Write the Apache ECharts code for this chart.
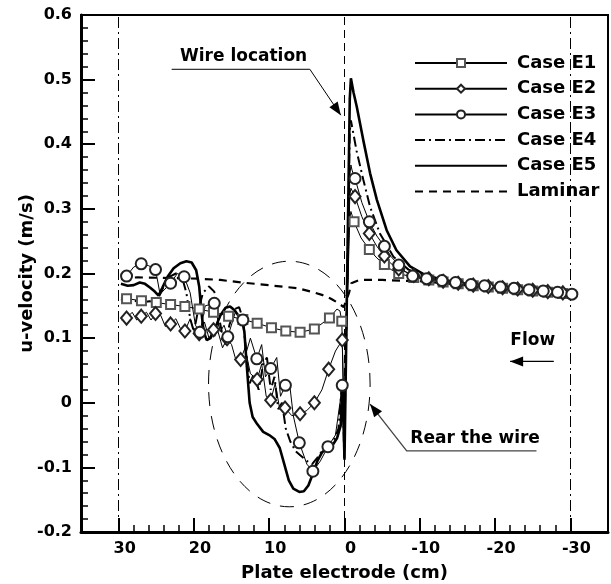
<!DOCTYPE html>
<html><head><meta charset="utf-8">
<script src="https://cdn.jsdelivr.net/npm/echarts@6/dist/echarts.min.js"></script>
<style>html,body{margin:0;padding:0;background:#fff}#c{width:611px;height:584px}</style>
</head><body><div id="c"></div>
<script>
// ---------- tick values ----------
const xTicks = [30, 20, 10, 0, -10, -20, -30];
const xMinorTicks = [28,26,24,22,18,16,14,12,8,6,4,2,-2,-4,-6,-8,-12,-14,-16,-18,-22,-24,-26,-28];
const yMin = -0.2, yMax = 0.6, yStep = 0.1;
const refDashDotX = [30, -30];
const wireX = [0];

// ---------- Case E1 (squares) ----------
const e1Line = [[29.7,0.162],[1.0,0.145],[0.6,0.142],[0.05,-0.02],[-0.7,0.285],[-0.85,0.296],[-2.2,0.255],[-4.3,0.224],[-6.2,0.206],[-30.2,0.168]];
const e1Marks = [[28.95,0.161],[26.97,0.158],[25.0,0.155],[23.1,0.152],[21.2,0.149],[19.3,0.145],[17.4,0.14],[15.4,0.134],[13.5,0.129],[11.6,0.123],[9.7,0.116],[7.8,0.111],[5.9,0.109],[4.0,0.114],[2.0,0.131],[0.36,0.126],
  [-1.27,0.28],[-3.3,0.237],[-5.3,0.214],[-7.2,0.2],[-9.2,0.194],[-11.2,0.19],[-13.1,0.187],[-15.1,0.184],[-17.1,0.181],[-19.1,0.179],[-21.0,0.177],[-23.0,0.175],[-25.0,0.173],[-27.0,0.171],[-29.0,0.169]];

// ---------- Case E2 (diamonds) ----------
const e2Line = [[29.6,0.128],[28.2,0.14],[27.6,0.128],[26.3,0.14],[25.7,0.128],[24.4,0.135],[23.8,0.118],[22.4,0.13],[21.8,0.115],[20.5,0.13],[19.9,0.108],[18.6,0.125],[18.0,0.1],[16.8,0.11],[16.2,0.085],[15.0,0.09],[14.4,0.065],[13.2,0.085],[12.5,0.045],[11.0,0.06],[10.4,0.01],[9.2,0.03],[8.6,-0.01],[7.0,-0.02],[5.0,-0.012],[3.0,0.02],[1.2,0.08],[0.05,-0.05],[-0.7,0.32],[-0.85,0.332],[-2.3,0.288],[-4.3,0.242],[-6.2,0.215],[-30.2,0.168]];
const e2Marks = [[28.95,0.131],[27.0,0.134],[25.1,0.138],[23.1,0.122],[21.2,0.111],[19.3,0.107],[17.4,0.113],[15.6,0.099],[13.8,0.067],[11.6,0.036],[9.8,0.004],[7.9,-0.008],[5.9,-0.017],[4.0,0.0],[2.1,0.052],[0.3,0.097],
  [-1.4,0.319],[-3.3,0.262],[-5.3,0.227],[-7.2,0.207],[-9.2,0.197],[-11.2,0.192],[-13.1,0.188],[-15.1,0.185],[-17.1,0.182],[-19.1,0.18],[-21.0,0.178],[-23.0,0.176],[-25.0,0.174],[-27.0,0.172],[-29.0,0.17]];

// ---------- Case E3 (circles) ----------
const e3Line = [[29.7,0.19],[28.0,0.21],[26.0,0.212],[24.5,0.168],[22.2,0.2],[20.5,0.17],[19.8,0.12],[18.5,0.15],[16.5,0.11],[16.0,0.12],[14.5,0.14],[13.0,0.08],[12.5,0.1],[11.0,0.09],[10.5,0.04],[9.0,0.07],[8.5,0.01],[7.3,0.03],[6.8,-0.02],[5.0,-0.095],[3.2,-0.09],[1.2,-0.05],[0.6,0.0],[0.05,-0.08],[-0.7,0.35],[-0.85,0.368],[-1.0,0.36],[-2.3,0.31],[-4.3,0.258],[-6.2,0.226],[-8.1,0.203]];
const e3Marks = [[28.95,0.196],[27.0,0.215],[25.1,0.206],[23.1,0.185],[21.3,0.195],[19.2,0.109],[17.3,0.154],[15.5,0.102],[13.5,0.128],[11.65,0.068],[9.8,0.053],[7.85,0.027],[6.0,-0.062],[4.2,-0.106],[2.2,-0.068],[0.3,0.027],
  [-1.4,0.347],[-3.3,0.28],[-5.3,0.242],[-7.2,0.213],[-9.05,0.196],[-10.9,0.192],[-12.95,0.189],[-14.75,0.186],[-16.8,0.183],[-18.6,0.181],[-20.7,0.179],[-22.5,0.177],[-24.5,0.175],[-26.4,0.173],[-28.3,0.171],[-30.2,0.168]];

// ---------- Case E4 (dash-dot) ----------
const e4 = [[29.7,0.16],[28.5,0.158],[27.5,0.157],[26.5,0.156],[25.5,0.158],[24.7,0.163],[24.0,0.18],[23.2,0.195],[22.4,0.2],[21.6,0.195],[21.0,0.17],[20.5,0.13],[20.0,0.11],[19.5,0.14],[18.8,0.17],[18.0,0.18],[17.3,0.172],[16.8,0.14],[16.3,0.11],[15.8,0.09],[15.3,0.12],[14.6,0.145],[14.0,0.148],[13.5,0.13],[13.0,0.07],[12.6,0.03],[12.0,0.045],[11.4,0.02],[10.8,0.06],[10.3,0.07],[9.8,0.02],[9.3,0.04],[8.8,-0.01],[8.3,0.0],[7.8,-0.04],[7.2,-0.06],[6.5,-0.075],[5.8,-0.082],[5.0,-0.09],[4.3,-0.095],[3.6,-0.085],[3.0,-0.075],[2.2,-0.07],[1.5,-0.06],[0.8,-0.04],[0.4,0.02],[0.2,0.03],[0.05,-0.085],
  [-0.7,0.42],[-0.85,0.437],[-1.6,0.39],[-2.5,0.345],[-3.4,0.303],[-4.7,0.262],[-6.5,0.226],[-8.5,0.206],[-10.5,0.197],[-12.5,0.191],[-15,0.186],[-18,0.181],[-21,0.177],[-24,0.174],[-27,0.171],[-30.2,0.168]];

// ---------- Case E5 (thick solid) ----------
const e5 = [[29.7,0.184],[28.8,0.181],[28.0,0.182],[27.2,0.186],[26.5,0.184],[25.8,0.178],[25.2,0.172],[24.7,0.166],[24.2,0.178],[23.5,0.195],[22.7,0.208],[21.8,0.216],[21.0,0.219],[20.3,0.217],[19.7,0.205],[19.3,0.18],[19.0,0.14],[18.7,0.11],[18.3,0.097],[17.8,0.1],[17.2,0.115],[16.5,0.135],[15.8,0.147],[15.2,0.149],[14.6,0.143],[14.1,0.135],[13.6,0.128],[13.3,0.11],[13.0,0.06],[12.6,0.0],[12.2,-0.022],[11.6,-0.033],[10.8,-0.045],[10.0,-0.05],[9.3,-0.056],[8.6,-0.07],[8.0,-0.095],[7.4,-0.12],[6.8,-0.133],[6.0,-0.138],[5.4,-0.137],[4.8,-0.128],[4.2,-0.11],[3.6,-0.09],[3.0,-0.077],[2.3,-0.07],[1.6,-0.066],[1.0,-0.055],[0.5,-0.035],[0.3,0.03],[0.15,-0.02],[0.0,-0.088],
  [-0.7,0.47],[-0.85,0.502],[-1.2,0.48],[-1.63,0.458],[-2.5,0.406],[-3.4,0.355],[-4.3,0.314],[-5.6,0.267],[-6.9,0.236],[-8.7,0.211],[-10.5,0.199],[-12.5,0.192],[-15,0.186],[-18,0.181],[-21,0.177],[-24,0.174],[-27,0.171],[-30.2,0.168]];

// ---------- Laminar (dashed) ----------
const laminar = [[29.7,0.193],[27.5,0.194],[23.0,0.193],[19.4,0.192],[16.5,0.19],[13.6,0.186],[10.1,0.182],[6.1,0.177],[4.5,0.172],[3.0,0.167],[1.8,0.161],[0.8,0.154],[0.1,0.148],[-0.6,0.17],[-0.9,0.185],[-2,0.19],[-5,0.19],[-10,0.188],[-15,0.183],[-20,0.178],[-25,0.173],[-30.2,0.168]];

// ---------- annotations (data coordinates) ----------
const ellipseCenter = [7.33, 0.029], ellipseRx = 10.73, ellipseRy = 0.19;
const wireLabelAt = [13.4, 0.536], wireLine = [[22.96,0.516],[4.6,0.516]], wireTip = [0.49,0.445];
const rearLabelAt = [-17.35,-0.056], rearLine = [[-25.5,-0.0745],[-8.26,-0.0745]], rearTip = [-3.4,-0.002];
const flowLabelAt = [-25,0.096], flowFrom = [-27.8,0.064], flowTip = [-22,0.064];

const FONT = 'DejaVu Sans';

function withMarks(line, marks){
  const items = line.map(p => ({value:p, symbol:'none'})).concat(marks.map(p => ({value:p})));
  items.sort((a,b) => b.value[0]-a.value[0]);
  return items;
}
const thin = () => ({color:'#000', width:1, type:'solid'});

const chart = echarts.init(document.getElementById('c'), null, {renderer:'canvas'});
chart.setOption({
  animation:false,
  backgroundColor:'#fff',
  grid:{left:81, right:3, top:15, bottom:52, show:true, borderColor:'#000', borderWidth:2, containLabel:false, outerBoundsMode:'none'},
  legend:{
    orient:'vertical', left:409, top:49, itemWidth:92, itemHeight:10, itemGap:7.7,
    textStyle:{fontFamily:FONT, fontWeight:'bold', fontSize:18, color:'#000', padding:[0,0,0,5]},
    data:[
      {name:'Case E1'},{name:'Case E2'},{name:'Case E3'},
      {name:'Case E4', itemStyle:{opacity:0}},
      {name:'Case E5', itemStyle:{opacity:0}},
      {name:'Laminar', itemStyle:{opacity:0}}
    ]
  },
  xAxis:[{
    type:'value', min:-35, max:35, inverse:true, position:'bottom',
    name:'Plate electrode (cm)', nameLocation:'middle', nameGap:32, nameMoveOverlap:false,
    nameTextStyle:{fontFamily:FONT, fontWeight:'bold', fontSize:18, color:'#000'},
    axisLine:{show:true, onZero:false, lineStyle:{color:'#000', width:3}},
    axisTick:{show:true, inside:true, length:14, customValues:xTicks, lineStyle:{color:'#000', width:2}},
    axisLabel:{show:true, customValues:xTicks, margin:9, fontFamily:FONT, fontWeight:'bold', fontSize:16, color:'#000', padding:[0,0,0,12]},
    splitLine:{show:false}
  },{
    type:'value', min:-35, max:35, inverse:true, position:'bottom',
    axisLine:{show:false, onZero:false},
    axisTick:{show:true, inside:true, length:7, customValues:xMinorTicks, lineStyle:{color:'#000', width:1.5}},
    axisLabel:{show:false}, splitLine:{show:false}
  }],
  yAxis:{
    type:'value', min:yMin, max:yMax, interval:yStep,
    name:'u-velocity (m/s)', nameLocation:'middle', nameGap:45, nameMoveOverlap:false,
    nameTextStyle:{fontFamily:FONT, fontWeight:'bold', fontSize:18, color:'#000'},
    axisLine:{show:true, onZero:false, lineStyle:{color:'#000', width:3}},
    axisTick:{show:true, inside:true, length:14, lineStyle:{color:'#000', width:2}},
    minorTick:{show:true, splitNumber:5, length:7, lineStyle:{color:'#000', width:1.5}},
    axisLabel:{margin:9, fontFamily:FONT, fontWeight:'bold', fontSize:16, color:'#000',
      formatter: v => Math.abs(v) < 1e-9 ? '0' : (Math.round(v*10)/10).toFixed(1)},
    splitLine:{show:false}
  },
  series:[
    {name:'refs', type:'line', data:[], silent:true,
     markLine:{silent:true, symbol:'none', label:{show:false},
       data: refDashDotX.map(x => ({xAxis:x, lineStyle:{color:'#000', width:1, type:[11,4,2,4]}}))
             .concat(wireX.map(x => ({xAxis:x, lineStyle:{color:'#000', width:1, type:[8,5]}})))}},
    {name:'Laminar', type:'line', data:laminar, symbol:'none', z:3,
     lineStyle:{color:'#000', width:2.2, type:[8,6]}, itemStyle:{color:'#000'}},
    {name:'Case E4', type:'line', data:e4, symbol:'none', z:4,
     lineStyle:{color:'#000', width:2, type:[10,4,2,4]}, itemStyle:{color:'#000'}},
    {name:'Case E5', type:'line', data:e5, symbol:'none', z:5,
     lineStyle:{color:'#000', width:2.6}, itemStyle:{color:'#000'}},
    {name:'Case E1', type:'line', data:withMarks(e1Line, e1Marks), symbol:'emptyRect', symbolSize:9, z:6,
     lineStyle:thin(), itemStyle:{color:'#555', borderWidth:1.2}},
    {name:'Case E2', type:'line', data:withMarks(e2Line, e2Marks), symbol:'emptyDiamond', symbolSize:[11,13], z:6,
     lineStyle:thin(), itemStyle:{color:'#222', borderWidth:1.1}},
    {name:'Case E3', type:'line', data:withMarks(e3Line, e3Marks), symbol:'emptyCircle', symbolSize:11, z:6,
     lineStyle:thin(), itemStyle:{color:'#222', borderWidth:1.1}}
  ]
});

function px(p){ return chart.convertToPixel({xAxisIndex:0, yAxisIndex:0}, p); }
function head(tip, from, len, half){
  const dx = tip[0]-from[0], dy = tip[1]-from[1], L = Math.hypot(dx,dy), ux = dx/L, uy = dy/L;
  const b = [tip[0]-ux*len, tip[1]-uy*len];
  return [tip, [b[0]-uy*half, b[1]+ux*half], [b[0]+uy*half, b[1]-ux*half]];
}
const c0 = px(ellipseCenter), cx1 = px([ellipseCenter[0]+ellipseRx, ellipseCenter[1]]), cy1 = px([ellipseCenter[0], ellipseCenter[1]+ellipseRy]);
const wl0 = px(wireLine[0]), wl1 = px(wireLine[1]), wt = px(wireTip);
const rl0 = px(rearLine[0]), rl1 = px(rearLine[1]), rt = px(rearTip);
const ff = px(flowFrom), ft = px(flowTip);
const txt = (p, s) => ({type:'text', x:p[0], y:p[1], z:20,
  style:{text:s, fill:'#000', font:'bold 17px "DejaVu Sans"', align:'center', verticalAlign:'middle'}});
chart.setOption({graphic:[
  {type:'ellipse', z:2, shape:{cx:c0[0], cy:c0[1], rx:Math.abs(cx1[0]-c0[0]), ry:Math.abs(cy1[1]-c0[1])},
   style:{fill:'none', stroke:'#000', lineWidth:1, lineDash:[14,10]}},
  txt(px(wireLabelAt), 'Wire location'),
  {type:'polyline', z:20, shape:{points:[wl0, wl1, wt]}, style:{stroke:'#000', lineWidth:1, fill:'none'}},
  {type:'polygon', z:20, shape:{points:head(wt, wl1, 13, 5)}, style:{fill:'#000'}},
  txt(px(rearLabelAt), 'Rear the wire'),
  {type:'polyline', z:20, shape:{points:[rl0, rl1, rt]}, style:{stroke:'#444', lineWidth:1.3, fill:'none'}},
  {type:'polygon', z:20, shape:{points:head(rt, rl1, 13, 5)}, style:{fill:'#000'}},
  txt(px(flowLabelAt), 'Flow'),
  {type:'line', z:20, shape:{x1:ff[0], y1:ff[1], x2:ft[0], y2:ft[1]}, style:{stroke:'#000', lineWidth:1.2}},
  {type:'polygon', z:20, shape:{points:head(ft, ff, 13, 5)}, style:{fill:'#000'}}
]});
</script>
</body></html>
